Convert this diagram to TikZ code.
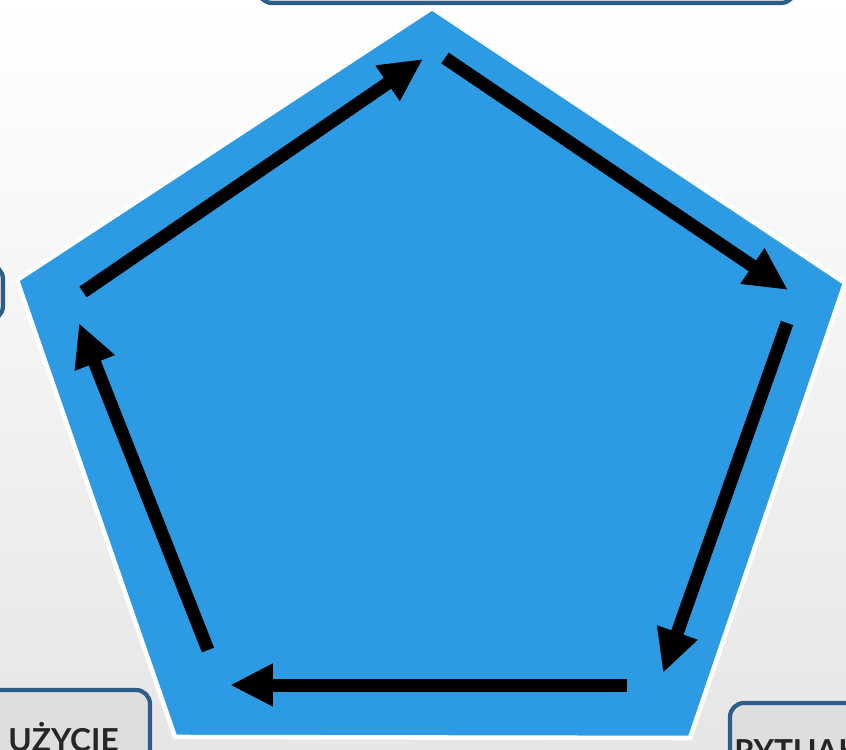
\documentclass[tikz,border=0pt]{standalone}
\usepackage{fontspec}
\setmainfont{Lato}
\usepackage{tikz}
\usetikzlibrary{arrows.meta, positioning, calc}
\definecolor{pentablue}{HTML}{2C9BE3}
\definecolor{boxblue}{HTML}{2D5E8A}
\definecolor{boxfill}{HTML}{DEDEDE}
\definecolor{backgray}{HTML}{E6E6E6}

\begin{document}
\begin{tikzpicture}[x=0.02cm, y=-0.02cm,
  labelbox/.style={draw=boxblue, line width=2.4pt, rounded corners=8pt, fill=boxfill},
  boxtext/.style={inner sep=0pt, font=\fontsize{18}{20}\selectfont\bfseries, text=black!85},
  cyclearr/.style={-{Triangle[length=0.86cm, width=0.8cm]}, line width=7.4pt, black}
]
\useasboundingbox (0,0) rectangle (846,750);
\clip (0,0) rectangle (846,750);
\shade[top color=white, bottom color=backgray] (0,0) rectangle (846,750);

% label boxes, cut by the page edge
\draw[labelbox] (258,-60) rectangle (795,3);
\draw[labelbox] (-80,265) rectangle (3,320);
\draw[labelbox] (-40,690) rectangle (150,800);
\draw[labelbox] (730,703) rectangle (900,800);
\node[boxtext, anchor=base west] (uzycie) at (8,751) {UŻYCIE};
\node[boxtext, anchor=base west] (rytual) at (734,762) {RYTUAŁ};

% pentagon corners
\coordinate (ptop) at (432,8);
\coordinate (pright) at (845,283);
\coordinate (pbr) at (690,738);
\coordinate (pbl) at (175,737);
\coordinate (pleft) at (17,280);
\draw[fill=pentablue, draw=white, line width=2.6pt, line join=miter]
  (ptop) -- (pright) -- (pbr) -- (pbl) -- (pleft) -- cycle;

% arrow ends
\coordinate (a1) at (83,292);  \coordinate (b1) at (423,59);
\coordinate (a2) at (445,58);  \coordinate (b2) at (788,290);
\coordinate (a3) at (787,323); \coordinate (b3) at (663,673);
\coordinate (a4) at (627,685); \coordinate (b4) at (230,685);
\coordinate (a5) at (208,650); \coordinate (b5) at (79,323);

\foreach \i in {1,...,5}
  \draw[cyclearr] (a\i) -- (b\i);

\end{tikzpicture}
\end{document}
